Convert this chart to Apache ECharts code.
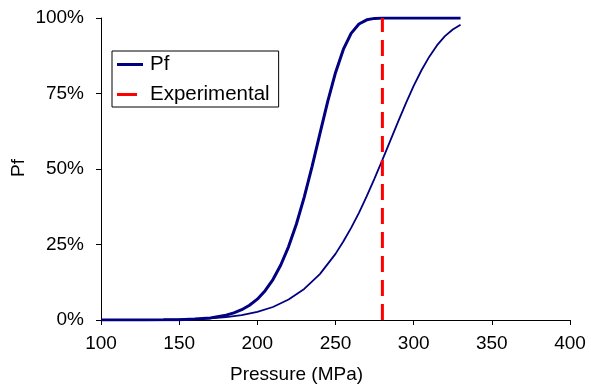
<!DOCTYPE html>
<html>
<head>
<meta charset="utf-8">
<script src="https://cdn.jsdelivr.net/npm/echarts@6/dist/echarts.min.js"></script>
<style>
html,body{margin:0;padding:0;background:#fff;}
#chart{width:591px;height:387px;}
</style>
</head>
<body>
<div id="chart"></div>
<script>
// Pressure (MPa) and failure probability Pf (%)
const thickX = [100,110,120,130,140,150,160,170,180,185,190,195,200,205,210,215,220,225,230,235,240,245,250,255,260,265,270,275,280,290,300,310,320,330];
const thickPf = [0,0.01,0.02,0.03,0.05,0.12,0.3,0.7,1.6,2.35,3.4,4.9,6.9,9.7,13.4,18.2,24.3,31.8,40.7,50.8,61.6,72.3,81.9,89.6,94.9,98.0,99.4,99.87,99.98,100,100,100,100,100];

const thinX = [100,110,120,130,140,150,160,170,180,190,200,210,220,230,240,250,255,260,265,270,275,280,285,290,295,300,305,310,315,320,325,330];
const thinPf = [0.005,0.01,0.02,0.04,0.08,0.16,0.3,0.55,0.97,1.64,2.7,4.3,6.8,10.3,15.2,21.9,26.0,30.5,35.5,41.0,46.9,53.0,59.3,65.6,71.7,77.5,82.7,87.2,91.0,94.0,96.2,97.8];

const experimentalX = 280;
const experimentalPf = [0, 100];

const xTicks = {min: 100, max: 400, interval: 50};
const yTicks = {min: 0, max: 100, interval: 25};

const font = '"Liberation Sans", Arial, sans-serif';
const chart = echarts.init(document.getElementById('chart'), null, {renderer: 'canvas'});

const zip = (xs, ys) => xs.map((x, i) => [x, ys[i]]);

chart.setOption({
  animation: false,
  backgroundColor: '#ffffff',
  textStyle: {fontFamily: font},
  grid: {left: 101, right: 21, top: 18, bottom: 67},
  legend: {
    orient: 'vertical',
    left: 112, top: 51,
    padding: [3, 9, 2, 5],
    itemGap: 9,
    itemWidth: 26, itemHeight: 3,
    borderColor: '#000', borderWidth: 1,
    data: [
      {name: 'Pf', icon: 'rect'},
      {name: 'Experimental', icon: 'path://M0,0h20v3h-20zM20,0h6'}
    ],
    textStyle: {fontFamily: font, fontSize: 20.5, lineHeight: 21, color: '#000', padding: [0, 0, 0, 2]}
  },
  xAxis: {
    type: 'value',
    min: xTicks.min, max: xTicks.max, interval: xTicks.interval,
    axisLine: {show: true, onZero: false, lineStyle: {color: '#000', width: 1}},
    axisTick: {show: true, inside: false, length: 5, lineStyle: {color: '#000'}},
    axisLabel: {margin: 14, fontSize: 19, color: '#000', fontFamily: font},
    splitLine: {show: false}
  },
  yAxis: {
    type: 'value',
    min: yTicks.min, max: yTicks.max, interval: yTicks.interval,
    axisLine: {show: true, lineStyle: {color: '#000', width: 1}},
    axisTick: {show: true, inside: false, length: 5, lineStyle: {color: '#000'}},
    axisLabel: {margin: 17, fontSize: 19, color: '#000', fontFamily: font, formatter: '{value}%'},
    splitLine: {show: false}
  },
  graphic: [
    {type: 'text', left: 230, top: 365, style: {text: 'Pressure (MPa)', font: '19px ' + font, fill: '#000'}},
    {type: 'text', rotation: Math.PI / 2, x: 9, y: 177, style: {text: 'Pf', font: '19px ' + font, fill: '#000'}}
  ],
  series: [
    {
      name: 'Pf2', type: 'line', data: zip(thinX, thinPf),
      symbol: 'none', smooth: false,
      lineStyle: {color: '#000080', width: 1.8}, itemStyle: {color: '#000080'}, z: 2
    },
    {
      name: 'Pf', type: 'line', data: zip(thickX, thickPf),
      symbol: 'none', smooth: false,
      lineStyle: {color: '#000080', width: 3}, itemStyle: {color: '#000080'}, z: 3
    },
    {
      name: 'Experimental', type: 'line',
      data: experimentalPf.map(p => [experimentalX, p]),
      symbol: 'none',
      lineStyle: {color: '#ff0000', width: 3, type: [16, 8]}, itemStyle: {color: '#ff0000'}, z: 4
    }
  ]
});
</script>
</body>
</html>
